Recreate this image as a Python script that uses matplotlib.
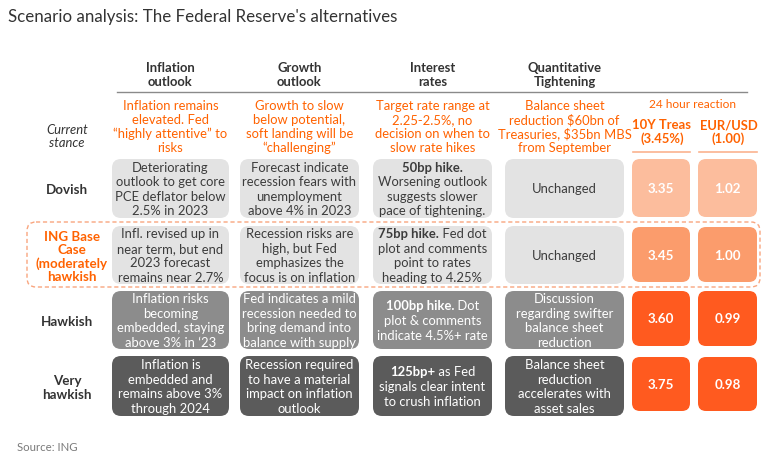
import matplotlib
matplotlib.use("Agg")
import matplotlib.pyplot as plt
from matplotlib.patches import FancyBboxPatch

FONT = "Lato"
plt.rcParams['font.family'] = [FONT, 'DejaVu Sans']

# ---------------- data ----------------
title = "Scenario analysis: The Federal Reserve's alternatives"
columns = ["Inflation\noutlook", "Growth\noutlook", "Interest\nrates", "Quantitative\nTightening"]
current_label = "Current\nstance"
current = [
    "Inflation remains\nelevated. Fed\n\u201chighly attentive\u201d to\nrisks",
    "Growth to slow\nbelow potential,\nsoft landing will be\n\u201cchallenging\u201d",
    "Target rate range at\n2.25-2.5%, no\ndecision on when to\nslow rate hikes",
    "Balance sheet\nreduction $60bn of\nTreasuries, $35bn MBS\nfrom September",
]
reaction_label = "24 hour reaction"
reaction_cols = ["10Y Treas\n(3.45%)", "EUR/USD\n(1.00)"]
scenarios = ["Dovish", "ING Base\nCase\n(moderately\nhawkish", "Hawkish", "Very\nhawkish"]
inflation = [
    "Deteriorating\noutlook to get core\nPCE deflator below\n2.5% in 2023",
    "Infl. revised up in\nnear term, but end\n2023 forecast\nremains near 2.7%",
    "Inflation risks\nbecoming\nembedded, staying\nabove 3% in \u201823",
    "Inflation is\nembedded and\nremains above 3%\nthrough 2024",
]
growth = [
    "Forecast indicate\nrecession fears with\nunemployment\nabove 4% in 2023",
    "Recession risks are\nhigh, but Fed\nemphasizes the\nfocus is on inflation",
    "Fed indicates a mild\nrecession needed to\nbring demand into\nbalance with supply",
    "Recession required\nto have a material\nimpact on inflation\noutlook",
]
rates_bold = ["50bp hike.", "75bp hike.", "100bp hike.", "125bp+"]
rates_text = [
    "\nWorsening outlook\nsuggests slower\npace of tightening.",
    " Fed dot\nplot and comments\npoint to rates\nheading to 4.25%",
    " Dot\nplot & comments\nindicate 4.5%+ rate",
    " as Fed\nsignals clear intent\nto crush inflation",
]
qt = [
    "Unchanged",
    "Unchanged",
    "Discussion\nregarding swifter\nbalance sheet\nreduction",
    "Balance sheet\nreduction\naccelerates with\nasset sales",
]
treas = [3.35, 3.45, 3.60, 3.75]
eurusd = [1.02, 1.00, 0.99, 0.98]
source = "Source: ING"

# ---------------- styling ----------------
ORANGE = "#ff6200"
DARK = "#333333"
row_fill = ["#e3e3e3", "#e3e3e3", "#8c8c8c", "#5b5b5b"]
row_text = ["#3c3c3c", "#3c3c3c", "white", "white"]
react_fill = ["#fcbd9d", "#fb9c6c", "#ff5a1f", "#ff5a1f"]

W, H = 779, 464
fig = plt.figure(figsize=(W / 100, H / 100), dpi=100)
ax = fig.add_axes([0, 0, 1, 1])
ax.set_xlim(0, W)
ax.set_ylim(H, 0)
ax.axis("off")

col_x = [(112, 229), (240, 359), (373, 492), (505, 624)]
react_x = [(632, 690), (698, 757)]
row_y = [(160, 219), (227, 285), (292, 350), (357, 417)]
react_y = [(160, 218), (228, 283), (292, 347), (358, 412)]
label_cx = 67
PITCH = 14.6
FS = 9.4

ax.text(8, 17, title, fontsize=12.2, color=DARK, va="center", ha="left")

# column headers
for (x0, x1), h in zip(col_x, columns):
    cx = (x0 + x1) / 2
    for i, line in enumerate(h.split("\n")):
        ax.text(cx, 68 + i * 14, line, fontsize=9.4, fontweight="bold",
                color=DARK, ha="center", va="center")
ax.plot([117, 747], [93, 93], color="#8a8a8a", lw=1.0)

# current stance
for i, line in enumerate(current_label.split("\n")):
    ax.text(label_cx, 130 + i * 13.5, line, fontsize=9.4, style="italic",
            color=DARK, ha="center", va="center")
for (x0, x1), txt in zip(col_x, current):
    cx = (x0 + x1) / 2
    for i, line in enumerate(txt.split("\n")):
        ax.text(cx, 106.5 + i * 13.7, line, fontsize=FS, color=ORANGE,
                ha="center", va="center")

ax.text(693, 105, reaction_label, fontsize=8.6, color=ORANGE, ha="center", va="center")
for (x0, x1), h in zip(react_x, reaction_cols):
    cx = (x0 + x1) / 2
    for i, line in enumerate(h.split("\n")):
        ax.text(cx + 1, 125 + i * 14, line, fontsize=9.4, fontweight="bold",
                color=ORANGE, ha="center", va="center")
    ax.plot([x0 + 1, x1], [153, 153], color="#fbb38f", lw=1.2)

# dashed base-case frame
frame = FancyBboxPatch((27, 223), 733, 65,
                       boxstyle="round,pad=0,rounding_size=9",
                       fc="none", ec="#f9a57e", lw=1.0, ls=(0, (3, 2)))
ax.add_patch(frame)


def box(x0, x1, y0, y1, fc, r=9):
    ax.add_patch(FancyBboxPatch((x0, y0), x1 - x0, y1 - y0,
                                boxstyle=f"round,pad=0,rounding_size={r}",
                                fc=fc, ec="none"))


def lines_centered(cx, cy, lines, color):
    n = len(lines)
    top = cy - (n - 1) * PITCH / 2
    for i, line in enumerate(lines):
        ax.text(cx, top + i * PITCH, line, fontsize=FS, color=color,
                ha="center", va="center")


fig.canvas.draw()
renderer = fig.canvas.get_renderer()


def text_width(s, **kw):
    t = ax.text(0, 0, s, fontsize=FS, **kw)
    w = t.get_window_extent(renderer).width
    t.remove()
    return w


for r in range(4):
    y0, y1 = row_y[r]
    cy = (y0 + y1) / 2
    fc, tc = row_fill[r], row_text[r]
    # row label
    lab_color = ORANGE if r == 1 else DARK
    lab_lines = scenarios[r].split("\n")
    lab_pitch = 13.5
    lab_top = cy + 1 - (len(lab_lines) - 1) * lab_pitch / 2
    for i, line in enumerate(lab_lines):
        ax.text(label_cx + (5 if r == 1 else 0), lab_top + i * lab_pitch, line,
                fontsize=9.6, fontweight="bold", color=lab_color,
                ha="center", va="center")
    # text cells
    cells = [inflation[r], growth[r], None, qt[r]]
    for c, (x0, x1) in enumerate(col_x):
        box(x0, x1, y0, y1, fc)
        cx = (x0 + x1) / 2
        if c != 2:
            lines_centered(cx, cy, cells[c].split("\n"), tc)
        else:
            rest = rates_text[r].split("\n")
            first_rest = rest[0]
            lines = [rates_bold[r] + first_rest] + rest[1:]
            n = len(lines)
            top = cy - (n - 1) * PITCH / 2
            wb = text_width(rates_bold[r], fontweight="bold")
            wr = text_width(first_rest) if first_rest else 0
            start = cx - (wb + wr) / 2
            ax.text(start, top, rates_bold[r], fontsize=FS, fontweight="bold",
                    color=tc, ha="left", va="center")
            if first_rest:
                ax.text(start + wb, top, first_rest, fontsize=FS, color=tc,
                        ha="left", va="center")
            for i, line in enumerate(rest[1:], start=1):
                ax.text(cx, top + i * PITCH, line, fontsize=FS, color=tc,
                        ha="center", va="center")
    # reaction cells
    ry0, ry1 = react_y[r]
    for (x0, x1), val in zip(react_x, [treas[r], eurusd[r]]):
        box(x0, x1, ry0, ry1, react_fill[r], r=8)
        ax.text((x0 + x1) / 2, (ry0 + ry1) / 2, f"{val:.2f}", fontsize=9.6,
                fontweight="bold", color="white", ha="center", va="center")

ax.text(17, 448, source, fontsize=8.2, color="#7a7a7a", ha="left", va="center")

fig.savefig("out.png", dpi=100)
